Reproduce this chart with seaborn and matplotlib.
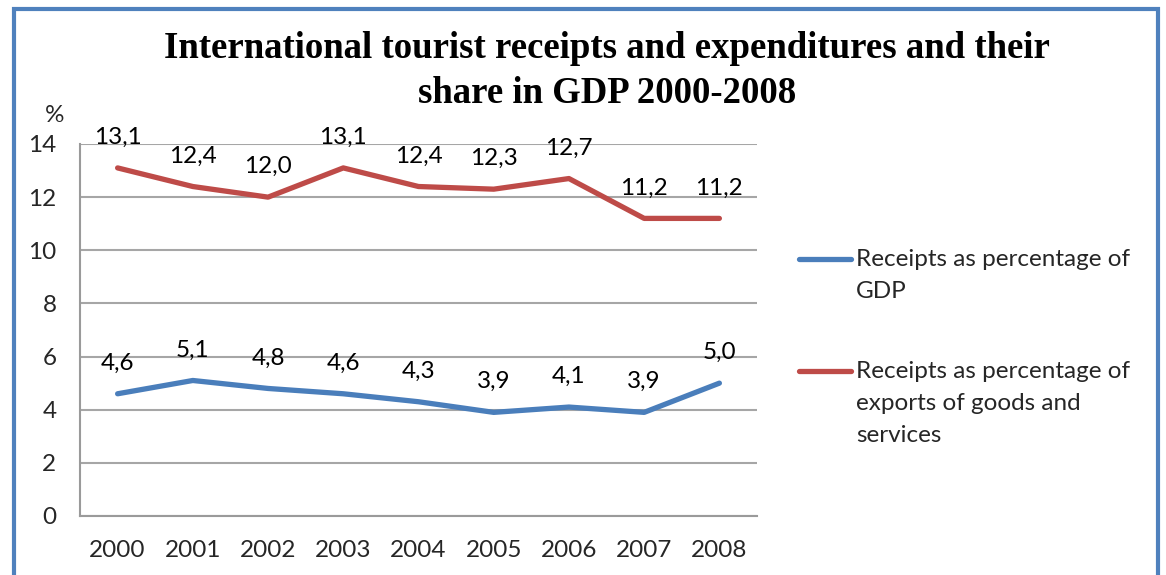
import matplotlib
matplotlib.use("Agg")
import matplotlib.pyplot as plt
from matplotlib.lines import Line2D
from matplotlib.patches import Rectangle
import numpy as np
import pandas as pd
import seaborn as sns

years = ["2000", "2001", "2002", "2003", "2004", "2005", "2006", "2007", "2008"]
gdp_share = [4.6, 5.1, 4.8, 4.6, 4.3, 3.9, 4.1, 3.9, 5.0]
exports_share = [13.1, 12.4, 12.0, 13.1, 12.4, 12.3, 12.7, 11.2, 11.2]
series_names = ["Receipts as percentage of\nGDP",
                "Receipts as percentage of\nexports of goods and\nservices"]
series_colors = ["#4A7EBB", "#BE4B48"]
y_ticks = [0, 2, 4, 6, 8, 10, 12, 14]
title = "International tourist receipts and expenditures and their\nshare in GDP 2000-2008"

W, H = 1166, 575
FS = 17.5
sns.set_theme(style="white")
plt.rcParams["font.family"] = ["Lato", "DejaVu Sans"]

df = pd.DataFrame({
    "pos": list(range(len(years))) * 2,
    "value": gdp_share + exports_share,
    "series": [series_names[0]] * len(years) + [series_names[1]] * len(years),
})

fig = plt.figure(figsize=(W / 100, H / 100), dpi=100)
ax = fig.add_axes([80 / W, 1 - 516 / H, (757 - 80) / W, (516 - 144) / H])

sns.lineplot(data=df, x="pos", y="value", hue="series", hue_order=series_names,
             palette=series_colors, linewidth=3.8, legend=False, ax=ax,
             solid_capstyle="round", solid_joinstyle="round")

ax.set_xlim(-0.5, len(years) - 0.5)
ax.set_ylim(0, 14)
ax.set_yticks(y_ticks)
ax.set_yticklabels([str(v) for v in y_ticks], fontsize=FS)
ax.set_xticks(np.arange(-0.5, len(years), 1.0))
ax.set_xticklabels([])
ax.set_xticks(range(len(years)), minor=True)
ax.set_xticklabels(years, minor=True, fontsize=FS)
ax.tick_params(axis="x", which="minor", length=0, pad=17)
ax.tick_params(axis="x", which="major", length=6, width=1.5, color="#9a9a9a", direction="out")
ax.tick_params(axis="y", length=6, width=1.5, color="#9a9a9a", direction="out", pad=11)
ax.set_xlabel("")
ax.set_ylabel("")
ax.yaxis.grid(True, color="#a6a6a6", linewidth=1.5)
ax.xaxis.grid(False)
ax.set_axisbelow(True)
for side in ["top", "right"]:
    ax.spines[side].set_visible(False)
for side in ["left", "bottom"]:
    ax.spines[side].set_color("#9a9a9a")
    ax.spines[side].set_linewidth(1.5)
ax.patch.set_alpha(0)

# value labels above each point
for vals in (gdp_share, exports_share):
    for i, v in enumerate(vals):
        ax.annotate(f"{v:.1f}".replace(".", ","), (i, v), xytext=(0, 22),
                    textcoords="offset points", ha="center", va="center",
                    fontsize=FS, color="black")

# unit label above the y axis
fig.text(55 / W, 1 - 116 / H, "%", ha="center", va="center", fontsize=FS)

# title
fig.text(607 / W, 1 - 71 / H, title, ha="center", va="center", fontsize=26.5,
         fontweight="bold", family=["Liberation Serif", "DejaVu Serif"],
         linespacing=1.38, color="black")

# legend
legend_rows = [(259, series_names[0], series_colors[0]),
               (371, series_names[1], series_colors[1])]
for y, label, color in legend_rows:
    fig.add_artist(Line2D([799 / W, 851 / W], [1 - y / H, 1 - y / H], color=color,
                          linewidth=3.8, solid_capstyle="round"))
    fig.text(856 / W, 1 - (y - 10) / H, label, ha="left", va="top", fontsize=FS,
             linespacing=1.65)

# chart frame
fig.add_artist(Rectangle((13.5 / W, -0.05), (1158 - 13.5) / W, 1.05 - 8.5 / H,
                         transform=fig.transFigure, fill=False,
                         edgecolor="#4F81BD", linewidth=3))

fig.savefig("out.png", dpi=100)
